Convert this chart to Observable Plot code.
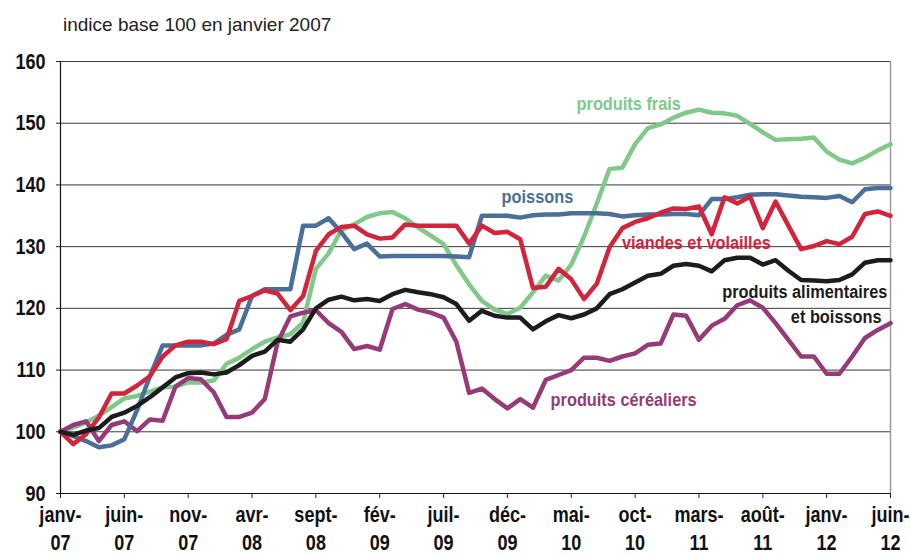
<!DOCTYPE html>
<html><head><meta charset="utf-8">
<script src="https://cdn.jsdelivr.net/npm/d3@7"></script>
<script src="https://cdn.jsdelivr.net/npm/@observablehq/plot@0.6"></script>
<style>
body{margin:0;background:#fff;font-family:"Liberation Sans","Arial",sans-serif;}
#title{height:45px;position:relative}
#title span{position:absolute;left:63px;top:14px;font-size:19px;color:#222;white-space:nowrap}
</style></head><body>
<div id="title"><span>indice base 100 en janvier 2007</span></div>
<div id="chart"></div>
<script>
// month index 0 = janvier 2007 ... 65 = juin 2012
const xTickMonths = [0,5,10,15,20,25,30,35,40,45,50,55,60,65];
const xTickLabels = ["janv-\n07","juin-\n07","nov-\n07","avr-\n08","sept-\n08","fév-\n09","juil-\n09","déc-\n09","mai-\n10","oct-\n10","mars-\n11","août-\n11","janv-\n12","juin-\n12"];
const yTicks = [90,100,110,120,130,140,150,160];

const frais = [100,100.7,101.5,102.6,104,105.4,105.8,106.5,107.2,107.3,108,108,108.3,111,112,113.4,114.6,115.3,115.8,117.7,126.4,128.9,132.7,133.6,134.8,135.4,135.6,134.6,133.1,131.8,130.4,127,123.9,121.2,119.8,119.1,120.1,122.6,125.3,124.5,127.1,131.6,137,142.6,142.8,146.6,149.2,149.8,150.9,151.7,152.2,151.7,151.6,151.2,149.9,148.5,147.3,147.4,147.5,147.7,145.4,144.1,143.5,144.4,145.6,146.6];
const poissons = [100,99.3,98.5,97.5,97.8,98.8,103.5,109,114,114,114,114,114.3,115.7,116.6,122,123.1,123.1,123.1,133.4,133.4,134.6,132.3,129.6,130.5,128.4,128.5,128.5,128.5,128.5,128.5,128.4,128.3,135,135,135,134.7,135.1,135.2,135.2,135.4,135.4,135.4,135.3,134.9,135.1,135.2,135.2,135.3,135.3,135.1,137.7,137.7,138,138.4,138.5,138.5,138.3,138.1,138,137.9,138.2,137.2,139.3,139.5,139.5];
const viandes = [100,98,99.6,102.3,106.2,106.2,107.5,109,112.2,114,114.6,114.6,114.2,115,121.2,122,122.9,122.4,119.7,122,129.3,132,133.2,133.4,132,131.3,131.5,133.6,133.4,133.4,133.4,133.4,130.5,133.4,132.2,132.4,131.2,123.3,123.5,126.4,124.7,121.5,124,129.9,133,134,134.6,135.5,136.2,136.1,136.5,132,138,137,138.1,133,137.3,133.4,129.6,130.1,130.9,130.4,131.6,135.3,135.7,135];
const alimentaires = [100,99.5,100.2,100.6,102.4,103.1,104.2,105.6,107.2,108.8,109.5,109.6,109.3,109.6,110.8,112.3,113,114.9,114.6,116.6,120,121.4,121.9,121.3,121.5,121.2,122.3,123,122.6,122.3,121.8,120.7,118,119.6,118.8,118.5,118.5,116.6,117.9,118.9,118.4,119,120,122.3,123.1,124.2,125.3,125.6,126.9,127.2,126.9,126,127.8,128.2,128.2,127.1,127.8,126.1,124.6,124.5,124.4,124.6,125.5,127.4,127.8,127.8];
const cereales = [100,101.1,101.7,98.5,101.1,101.7,100.1,102,101.8,107.3,108.7,108.5,106.4,102.4,102.4,103.1,105.3,114.5,118.7,119.3,119.7,117.6,116.2,113.4,113.9,113.3,119.9,120.7,119.8,119.3,118.5,114.6,106.3,107,105.3,103.8,105.3,103.9,108.4,109.2,110,112,112,111.5,112.2,112.7,114.1,114.3,119,118.8,114.9,117.2,118.3,120.5,121.3,120.1,117.6,114.9,112.2,112.2,109.4,109.4,112.2,115.2,116.5,117.6];

const seriesNames = ["produits frais","produits céréaliers","poissons","viandes et volailles","produits alimentaires et boissons"];
const seriesValues = [frais, cereales, poissons, viandes, alimentaires];
const seriesColors = ["#80c98b","#953b78","#4a6f98","#d2243d","#1c1c1c"];

const rows = seriesNames.flatMap((name, k) => seriesValues[k].map((v, i) => ({i, v, name})));

const labelTexts = ["produits frais","poissons","viandes et volailles","produits alimentaires","et boissons","produits céréaliers"];
const labelSeries = ["produits frais","poissons","viandes et volailles","produits alimentaires et boissons","produits alimentaires et boissons","produits céréaliers"];
const labelX = [44.5,37.35,49.8,64.75,64.3,44.1];
const labelY = [153.2,138.1,130.6,122.7,118.6,105.2];
const labelAnchor = ["middle","middle","middle","end","end","middle"];
const labels = labelTexts.map((t,k)=>({t, s:labelSeries[k], x:labelX[k], y:labelY[k], a:labelAnchor[k]}));

const font = '"Liberation Sans","Arial",sans-serif';

const chart = Plot.plot({
  width: 911, height: 511,
  marginTop: 16, marginLeft: 60, marginRight: 21, marginBottom: 63,
  style: {fontFamily: font, background: "white", color: "#111", overflow: "visible"},
  x: {domain: [0, 65]},
  y: {domain: [90, 160]},
  color: {domain: seriesNames, range: seriesColors},
  marks: [
    Plot.gridY(yTicks, {stroke: "#3a3a3a", strokeOpacity: 1, strokeWidth: 1}),
    Plot.ruleX([65], {stroke: "#9a9a9a", strokeWidth: 1.5}),
    Plot.axisY({ticks: yTicks, tickSize: 4, tickPadding: 11, fontSize: 22, fontWeight: "bold", label: null, stroke: "#222"}),
    Plot.axisX({ticks: xTickMonths, tickSize: 5, tickPadding: 3, fontSize: 22, fontWeight: "bold", label: null, lineHeight: 1.3,
      tickFormat: (d) => xTickLabels[xTickMonths.indexOf(d)], stroke: "#222"}),
    Plot.ruleY([90], {stroke: "#111", strokeWidth: 1.2}),
    Plot.ruleX([0], {stroke: "#111", strokeWidth: 1.2}),
    Plot.line(rows, {x: "i", y: "v", z: "name", stroke: "name", strokeWidth: 4.5, strokeLinejoin: "round"}),
    Plot.text(labels.filter(d => d.a === "middle"), {x: "x", y: "y", text: "t", fill: "s", textAnchor: "middle", fontSize: 19, fontWeight: "bold"}),
    Plot.text(labels.filter(d => d.a === "end"), {x: "x", y: "y", text: "t", fill: "s", textAnchor: "end", fontSize: 19, fontWeight: "bold"})
  ]
});
document.getElementById("chart").appendChild(chart);

// condense glyphs horizontally (the original uses a narrow typeface), keeping each text's anchor
chart.querySelectorAll("text").forEach(t => {
  const g = t.closest("g[aria-label]");
  const role = g ? g.getAttribute("aria-label") : "";
  const k = role.includes("tick label") ? 0.82 : 0.86;
  const b = t.getBBox();
  const anchor = getComputedStyle(t).textAnchor;
  const ax = anchor === "middle" ? b.x + b.width / 2 : anchor === "end" ? b.x + b.width : b.x;
  const prev = t.getAttribute("transform") || "";
  t.setAttribute("transform", `${prev} translate(${ax},0) scale(${k},1) translate(${-ax},0)`);
});
</script></body></html>
